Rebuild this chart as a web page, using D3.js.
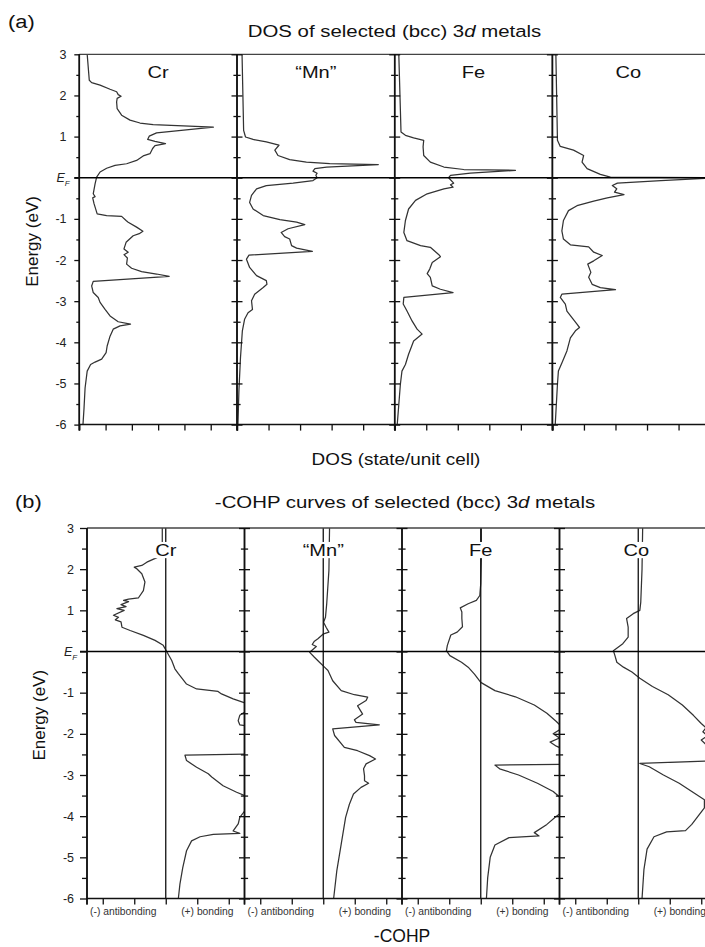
<!DOCTYPE html>
<html><head><meta charset="utf-8">
<script src="https://cdn.jsdelivr.net/npm/d3@7"></script>
<style>body{margin:0;background:#fff}svg{display:block}</style>
</head><body><svg id="c" width="705" height="947"></svg>
<script>
// ---------------- DATA ----------------
const metals = ["Cr", "\u201CMn\u201D", "Fe", "Co"];
const energyTicks = [3, 2, 1, 0, -1, -2, -3, -4, -5, -6];
const energyMinor = [2.5, 1.5, 0.5, -0.5, -1.5, -2.5, -3.5, -4.5, -5.5];
const dosTickCounts = [6, 5, 5, 5];
const cohpTicks = [-2, -1, 0, 1, 2];
const cohpTickLabels = ["(-) antibonding", "(+) bonding"];

// DOS curves: [energy (eV), DOS (tick units)]
const dosCr = [[3.00,0.30],[2.37,0.38],[2.31,0.47],[2.25,0.79],[2.15,1.17],[2.09,1.42],[2.02,1.48],[1.98,1.59],[1.93,1.44],[1.84,1.42],[1.68,1.44],[1.52,1.61],[1.40,1.93],[1.33,2.31],[1.29,2.81],[1.23,5.10],[1.09,2.94],[1.01,2.66],[0.93,2.60],[0.885,2.88],[0.83,3.28],[0.78,2.88],[0.71,2.79],[0.585,2.69],[0.53,2.43],[0.42,2.18],[0.34,1.80],[0.30,1.36],[0.23,1.04],[0.14,0.79],[0.015,0.66],[-0.15,0.60],[-0.39,0.53],[-0.46,0.60],[-0.49,0.51],[-0.63,0.56],[-0.88,0.68],[-0.92,1.04],[-0.94,1.61],[-1.04,1.78],[-1.08,1.86],[-1.20,2.18],[-1.30,2.42],[-1.36,2.28],[-1.41,2.05],[-1.57,1.78],[-1.73,1.70],[-1.81,1.86],[-1.87,1.70],[-1.95,1.83],[-2.10,1.80],[-2.20,1.99],[-2.28,2.37],[-2.34,2.94],[-2.40,3.42],[-2.52,0.53],[-2.63,0.47],[-2.79,0.53],[-2.91,0.72],[-3.03,0.79],[-3.20,0.98],[-3.36,1.17],[-3.50,1.48],[-3.56,1.95],[-3.60,1.55],[-3.68,1.29],[-3.85,1.17],[-4.09,1.06],[-4.25,1.02],[-4.41,0.85],[-4.48,0.60],[-4.54,0.43],[-4.70,0.30],[-5.11,0.22],[-5.60,0.18],[-6.00,0.14]];
const dosMn = [[3.00,0.16],[1.15,0.21],[0.99,0.27],[0.93,0.51],[0.87,0.93],[0.79,1.33],[0.67,1.20],[0.54,1.30],[0.44,1.67],[0.38,2.20],[0.34,2.94],[0.32,4.48],[0.26,2.84],[0.22,2.47],[0.16,2.41],[0.11,2.54],[0.06,2.50],[0.00,2.54],[-0.07,2.41],[-0.13,1.78],[-0.19,0.93],[-0.27,0.62],[-0.43,0.46],[-0.60,0.40],[-0.76,0.51],[-0.92,0.83],[-1.02,1.36],[-1.08,1.89],[-1.14,2.15],[-1.24,1.62],[-1.33,1.40],[-1.43,1.51],[-1.49,1.67],[-1.65,1.73],[-1.71,1.89],[-1.79,2.39],[-1.88,0.38],[-1.98,0.30],[-2.18,0.40],[-2.38,0.62],[-2.50,0.93],[-2.59,0.95],[-2.67,0.83],[-2.83,0.56],[-2.99,0.46],[-3.20,0.49],[-3.28,0.35],[-3.44,0.24],[-3.72,0.17],[-4.38,0.11],[-5.19,0.06],[-6.00,0.03]];
const dosFe = [[3.00,0.13],[1.11,0.20],[1.03,0.34],[0.97,0.60],[0.91,0.92],[0.75,0.90],[0.54,0.92],[0.38,1.13],[0.26,1.56],[0.20,2.19],[0.18,3.83],[0.11,2.40],[0.06,1.77],[0.00,1.71],[-0.13,1.87],[-0.17,1.77],[-0.23,1.85],[-0.27,1.56],[-0.39,1.03],[-0.55,0.66],[-0.76,0.44],[-1.04,0.34],[-1.33,0.29],[-1.53,0.39],[-1.65,0.82],[-1.69,1.13],[-1.87,1.40],[-1.92,1.45],[-2.06,1.19],[-2.22,1.11],[-2.33,1.03],[-2.42,1.13],[-2.63,1.19],[-2.71,1.45],[-2.79,1.85],[-2.91,0.29],[-3.07,0.27],[-3.24,0.39],[-3.48,0.55],[-3.68,0.71],[-3.80,0.87],[-3.97,0.60],[-4.29,0.44],[-4.54,0.34],[-4.70,0.23],[-5.02,0.18],[-5.51,0.13],[-6.00,0.08]];
const dosCo = [[3.00,0.11],[0.91,0.16],[0.76,0.25],[0.67,0.67],[0.54,0.99],[0.38,0.94],[0.22,1.10],[0.08,1.52],[0.015,1.84],[0.00,5.30],[-0.07,3.44],[-0.13,2.06],[-0.19,1.90],[-0.27,2.04],[-0.35,1.97],[-0.41,2.27],[-0.49,1.74],[-0.57,1.31],[-0.68,0.78],[-0.80,0.51],[-1.04,0.35],[-1.29,0.30],[-1.49,0.35],[-1.63,0.57],[-1.68,1.15],[-1.81,1.31],[-1.89,1.58],[-2.02,1.31],[-2.10,1.12],[-2.30,1.22],[-2.42,1.15],[-2.59,1.26],[-2.67,1.52],[-2.72,2.00],[-2.83,0.30],[-2.91,0.25],[-3.07,0.41],[-3.24,0.46],[-3.40,0.62],[-3.56,0.78],[-3.64,0.86],[-3.72,0.73],[-3.89,0.57],[-4.21,0.46],[-4.50,0.30],[-4.70,0.19],[-5.02,0.16],[-6.00,0.09]];

// -COHP curves: [energy (eV), -COHP (tick units, + bonding)]
const cohpCr = [[3.00,-0.11],[2.66,-0.11],[2.28,-0.28],[2.17,-0.60],[2.09,-0.76],[2.05,-1.00],[2.01,-0.92],[1.89,-0.76],[1.69,-0.66],[1.48,-0.71],[1.30,-0.87],[1.27,-1.18],[1.24,-1.34],[1.21,-1.18],[1.14,-1.42],[1.09,-1.26],[1.04,-1.55],[1.00,-1.32],[0.88,-1.66],[0.83,-1.50],[0.77,-1.60],[0.72,-1.42],[0.59,-1.39],[0.51,-1.13],[0.39,-0.71],[0.27,-0.34],[0.15,-0.08],[0.00,0.03],[-0.22,0.19],[-0.42,0.29],[-0.54,0.40],[-0.79,0.66],[-0.91,0.98],[-0.97,1.66],[-1.03,1.77],[-1.15,2.14],[-1.25,2.51],[-1.35,2.75],[-1.47,2.51],[-1.55,2.35],[-1.68,2.30],[-1.78,2.35],[-1.80,2.51],[-1.95,2.80],[-2.20,3.00],[-2.45,3.10],[-2.49,2.90],[-2.52,0.61],[-2.65,0.66],[-2.81,0.98],[-2.97,1.35],[-3.05,1.46],[-3.26,1.82],[-3.42,2.25],[-3.50,2.51],[-3.70,2.80],[-3.87,2.51],[-4.03,2.35],[-4.19,2.30],[-4.36,2.14],[-4.42,2.35],[-4.44,1.51],[-4.50,1.09],[-4.60,0.82],[-4.84,0.66],[-5.25,0.54],[-5.65,0.45],[-6.00,0.40]];
const cohpMn = [[3.00,0.20],[1.97,0.18],[1.16,0.11],[0.83,0.07],[0.71,0.01],[0.59,0.09],[0.47,0.18],[0.43,0.01],[0.31,-0.17],[0.25,-0.28],[0.17,-0.35],[0.12,-0.22],[-0.02,-0.43],[-0.14,-0.28],[-0.26,-0.12],[-0.38,0.04],[-0.46,0.15],[-0.71,0.30],[-0.95,0.57],[-1.05,0.99],[-1.11,1.41],[-1.19,1.36],[-1.32,1.09],[-1.52,1.25],[-1.66,0.99],[-1.72,1.04],[-1.78,1.78],[-1.88,0.30],[-2.04,0.36],[-2.33,0.67],[-2.41,1.09],[-2.53,1.47],[-2.61,1.66],[-2.73,1.36],[-2.85,1.28],[-3.02,1.31],[-3.14,1.31],[-3.20,1.44],[-3.30,1.20],[-3.46,0.96],[-3.71,0.83],[-4.03,0.71],[-4.68,0.57],[-5.33,0.43],[-6.00,0.33]];
const cohpFe = [[3.00,0.02],[2.28,0.02],[1.65,0.00],[1.36,-0.03],[1.24,-0.14],[1.16,-0.40],[1.06,-0.65],[0.96,-0.60],[0.80,-0.60],[0.60,-0.58],[0.47,-0.75],[0.40,-0.95],[0.15,-1.06],[0.02,-1.09],[-0.10,-0.98],[-0.26,-0.61],[-0.38,-0.40],[-0.55,-0.20],[-0.75,0.00],[-0.95,0.45],[-1.10,1.10],[-1.30,1.70],[-1.50,2.10],[-1.70,2.40],[-1.85,2.60],[-2.00,2.30],[-2.10,2.50],[-2.20,2.20],[-2.30,2.40],[-2.40,2.70],[-2.60,2.90],[-2.74,3.00],[-2.76,0.45],[-2.85,0.60],[-3.00,1.20],[-3.20,1.80],[-3.40,2.30],[-3.60,2.60],[-3.80,2.80],[-4.00,2.40],[-4.20,2.10],[-4.40,1.70],[-4.48,1.85],[-4.52,0.90],[-4.70,0.45],[-5.00,0.30],[-5.50,0.22],[-6.00,0.18]];
const cohpCo = [[3.00,0.14],[2.00,0.12],[1.20,0.08],[1.00,0.05],[0.92,-0.16],[0.80,-0.37],[0.59,-0.32],[0.35,-0.32],[0.19,-0.49],[0.02,-0.79],[-0.10,-0.74],[-0.26,-0.68],[-0.38,-0.47],[-0.50,-0.20],[-0.65,0.05],[-0.85,0.45],[-1.05,0.95],[-1.30,1.40],[-1.55,1.75],[-1.75,2.00],[-1.85,2.15],[-1.95,2.05],[-2.05,2.20],[-2.15,2.00],[-2.30,2.20],[-2.50,2.40],[-2.65,2.50],[-2.72,0.05],[-2.80,0.35],[-3.00,0.80],[-3.20,1.30],[-3.40,1.70],[-3.60,2.10],[-3.80,2.10],[-4.00,1.90],[-4.20,1.70],[-4.35,1.50],[-4.38,0.90],[-4.50,0.50],[-4.80,0.28],[-5.30,0.18],[-6.00,0.12]];

const dosSeries = [dosCr, dosMn, dosFe, dosCo];
const cohpSeries = [cohpCr, cohpMn, cohpFe, cohpCo];

// ---------------- DRAWING ----------------
const FONT = '"Liberation Sans", Arial, Helvetica, sans-serif';
const svg = d3.select("#c");
const W = 705;
const CURVE = "#333";

function txt(parent, x, y, o) {
  const g = parent.append("g").attr("transform",
    `translate(${x},${y})` + (o.rotate ? ` rotate(${o.rotate})` : "") + ` scale(${o.sx || 1},1)`);
  const t = g.append("text").attr("text-anchor", o.anchor || "middle")
    .attr("font-size", o.size || 14).attr("fill", o.fill || "#111")
    .style("font-family", FONT);
  (o.parts || [{s: o.s}]).forEach(p => {
    const ts = t.append("tspan").text(p.s);
    if (p.italic) ts.attr("font-style", "italic");
    if (p.size) ts.attr("font-size", p.size);
    if (p.dy) ts.attr("dy", p.dy);
  });
  if (o.bg) {
    const b = t.node().getBBox();
    g.insert("rect", "text").attr("x", b.x - 1).attr("y", b.y + 2).attr("width", b.width + 2)
      .attr("height", b.height - 3).attr("fill", "#fff");
  }
  return g;
}

let clipId = 0;
function drawSet(cfg) {
  const y = d3.scaleLinear().domain([-6, 3]).range([cfg.yBot, cfg.yTop]);
  const g = svg.append("g");
  const panels = metals.map((m, i) => {
    const x0 = cfg.left + i * cfg.pw, x1 = x0 + cfg.pw;
    const x = d3.scaleLinear().domain(cfg.domain(i)).range([x0, x1]);
    return {m, i, x0, x1, x};
  });

  panels.forEach(p => {
    const id = "clip" + (clipId++);
    svg.append("clipPath").attr("id", id).append("rect")
      .attr("x", p.x0).attr("y", cfg.yTop).attr("width", cfg.pw).attr("height", cfg.yBot - cfg.yTop);
    const line = d3.line().x(d => p.x(d[1])).y(d => y(d[0]));
    g.append("path").datum(cfg.series[p.i]).attr("d", line)
      .attr("clip-path", `url(#${id})`)
      .attr("fill", "none").attr("stroke", CURVE).attr("stroke-width", 1.25)
      .attr("stroke-linejoin", "round");
  });

  if (cfg.zero) panels.forEach(p => {
    g.append("line").attr("x1", p.x(0)).attr("x2", p.x(0)).attr("y1", cfg.yTop).attr("y2", cfg.yBot)
      .attr("stroke", "#111").attr("stroke-width", 1.3);
  });

  panels.forEach(p => {
    const cx = cfg.zero ? p.x(0) + (p.i === 3 ? -2 : 0) : (p.x0 + p.x1) / 2 - (p.i === 3 ? 3 : 0);
    txt(g, cx, cfg.labelY, {s: p.m, size: 17, sx: 1.18, bg: cfg.zero});
  });

  g.append("line").attr("x1", cfg.left).attr("x2", W).attr("y1", y(3)).attr("y2", y(3))
    .attr("stroke", "#444").attr("stroke-width", 1.3);
  g.append("line").attr("x1", cfg.left - cfg.tick).attr("x2", W).attr("y1", y(0)).attr("y2", y(0))
    .attr("stroke", "#000").attr("stroke-width", 1.5);

  panels.forEach(p => {
    const ax = d3.axisBottom(p.x).tickValues(cfg.bottomTicks(p.i)).tickSize(6).tickFormat("");
    const a = g.append("g").attr("transform", `translate(0,${cfg.yBot})`).call(ax);
    a.select(".domain").remove();
    a.selectAll("line").attr("stroke", "#111").attr("stroke-width", 1.3);
    if (cfg.zero) {
      txt(g, p.x(-1.35), cfg.yBot + 16.5, {s: cohpTickLabels[0], size: 10, sx: 1.03, fill: "#333"});
      txt(g, p.x(1.32), cfg.yBot + 16.5, {s: cohpTickLabels[1], size: 10, sx: 1.03, fill: "#333"});
    }
  });
  g.append("line").attr("x1", cfg.left).attr("x2", W).attr("y1", cfg.yBot).attr("y2", cfg.yBot)
    .attr("stroke", "#111").attr("stroke-width", 1.5);

  panels.forEach(p => {
    const isLeft = p.i === 0;
    const major = d3.axisLeft(y).tickValues(energyTicks).tickSize(isLeft ? cfg.tick : 5.5).tickFormat("");
    const minor = d3.axisLeft(y).tickValues(energyMinor).tickSize(isLeft ? cfg.tick - 2 : 3.6).tickFormat("");
    const a1 = g.append("g").attr("transform", `translate(${p.x0},0)`).call(major);
    const a2 = g.append("g").attr("transform", `translate(${p.x0},0)`).call(minor);
    [a1, a2].forEach(a => {
      a.select(".domain").attr("stroke", "#111").attr("stroke-width", 1.5).attr("d", `M0,${cfg.yTop}V${cfg.yBot + 6}`);
      a.selectAll("line").attr("stroke", "#111").attr("stroke-width", 1.3);
    });
    if (!isLeft) {
      a1.selectAll("line").attr("x1", 5.5);
      a2.selectAll("line").attr("x1", 3.6);
    }
  });

  energyTicks.forEach(t => {
    if (t === 0) {
      txt(g, cfg.labelRight - 10, y(0) + 4.5, {anchor: "start", size: 12.5, fill: "#222",
        parts: [{s: "E", italic: true}, {s: "F", italic: true, size: 8, dy: 3.5}]});
    } else {
      txt(g, cfg.labelRight, y(t) + 4.5, {s: String(t), anchor: "end", size: 12.5, fill: "#222"});
    }
  });

  txt(g, cfg.yTitleX, (y(-6) + y(3)) / 2 + 2, {s: "Energy (eV)", size: 17, rotate: -90});
  return {y, panels};
}

drawSet({
  left: 79.3, pw: 157.7, yTop: 54.3, yBot: 424.6, tick: 5, labelRight: 66.5, yTitleX: 38,
  labelY: 77.5, zero: false, series: dosSeries,
  domain: i => [0, dosTickCounts[i]],
  bottomTicks: i => d3.range(0, dosTickCounts[i] + 1)
});
drawSet({
  left: 87, pw: 157.5, yTop: 528, yBot: 898.5, tick: 7, labelRight: 74, yTitleX: 45,
  labelY: 555.5, zero: true, series: cohpSeries,
  domain: () => [-2.5, 2.5],
  bottomTicks: () => cohpTicks
});

txt(svg, 8, 28, {s: "(a)", size: 19, sx: 1.15, anchor: "start"});
txt(svg, 394.5, 37, {size: 17, sx: 1.2, parts: [{s: "DOS of selected (bcc) 3"}, {s: "d", italic: true}, {s: " metals"}]});
txt(svg, 396, 465, {s: "DOS (state/unit cell)", size: 16, sx: 1.18});
txt(svg, 15, 508, {s: "(b)", size: 19, sx: 1.15, anchor: "start"});
txt(svg, 405, 508, {size: 17, sx: 1.2, parts: [{s: "-COHP curves of selected (bcc) 3"}, {s: "d", italic: true}, {s: " metals"}]});
txt(svg, 402, 942, {s: "-COHP", size: 17.5, sx: 1.0});
</script>
</body></html>
